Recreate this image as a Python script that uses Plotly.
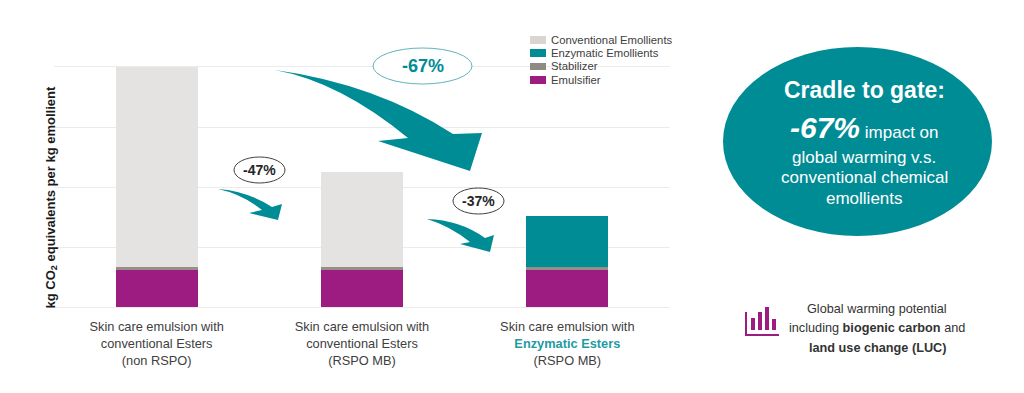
import plotly.graph_objects as go

# ---------- data ----------
categories = [
    "Skin care emulsion with<br>conventional Esters<br>(non RSPO)",
    "Skin care emulsion with<br>conventional Esters<br>(RSPO MB)",
    'Skin care emulsion with<br><span style="color:#1F9AA3"><b>Enzymatic Esters</b></span><br>(RSPO MB)',
]
emulsifier = [15.4, 15.4, 15.4]
stabilizer = [1.2, 1.2, 1.2]
enzymatic = [0, 0, 21.3]
conventional = [83.4, 39.6, 0]
series_names = ["Emulsifier", "Stabilizer", "Enzymatic Emollients", "Conventional Emollients"]
y_title = "kg CO<sub>2</sub> equivalents per kg emollient"

# ---------- style / page geometry ----------
W, H = 1024, 393
L, R, T, B = 54, 670, 67, 307
TEAL = "#008C95"
PURPLE = "#9C1C82"
GREY_L = "#E4E3E1"
GREY_S = "#968F87"
FONT = "Liberation Sans"


def px(x):
    return (x - L) / (R - L)


def py(y):
    return (B - y) / (B - T)


def path(cmds):
    out = []
    for c in cmds:
        if c[0] == "Z":
            out.append("Z")
        else:
            pts = c[1:]
            out.append(c[0] + " ".join(f"{px(pts[i]):.5f},{py(pts[i+1]):.5f}" for i in range(0, len(pts), 2)))
    return " ".join(out)


def fill_shape(cmds, color):
    return dict(type="path", xref="paper", yref="paper", path=path(cmds),
                fillcolor=color, line=dict(width=0), layer="above")


def ellipse(x0, y0, x1, y1, fill, line, lw=1):
    return dict(type="circle", xref="paper", yref="paper", x0=px(x0), x1=px(x1), y0=py(y1), y1=py(y0),
                fillcolor=fill, line=dict(color=line, width=lw), layer="above")


def rect(x0, y0, x1, y1, fill):
    return dict(type="rect", xref="paper", yref="paper", x0=px(x0), x1=px(x1), y0=py(y1), y1=py(y0),
                fillcolor=fill, line=dict(width=0), layer="above")


def text(x, y, s, size, color, anchor="center", angle=0):
    return dict(xref="paper", yref="paper", x=px(x), y=py(y), text=s, showarrow=False,
                xanchor=anchor, yanchor="middle", align="center", textangle=angle,
                borderpad=0, borderwidth=0,
                font=dict(family=FONT, size=size, color=color))


fig = go.Figure()
for name, vals, col in zip(series_names, [emulsifier, stabilizer, enzymatic, conventional],
                           [PURPLE, GREY_S, TEAL, GREY_L]):
    fig.add_bar(x=categories, y=vals, name=name, marker=dict(color=col, line=dict(width=0)), showlegend=False)

shapes = [
    # arrows
    fill_shape([("M", 275, 70), ("Q", 376, 84, 453, 134), ("L", 482, 133), ("L", 470, 171), ("L", 378, 141),
                ("L", 408, 138), ("Q", 340, 82, 275, 70), ("Z",)], TEAL),
    fill_shape([("M", 218, 189), ("Q", 247, 191, 272, 207), ("L", 282, 204), ("L", 278, 220), ("L", 249, 213),
                ("L", 262, 210), ("Q", 242, 194, 218, 189), ("Z",)], TEAL),
    fill_shape([("M", 427, 219), ("Q", 460, 220, 485, 238), ("L", 494, 235), ("L", 490, 252), ("L", 460, 244),
                ("L", 470, 242), ("Q", 450, 226, 427, 219), ("Z",)], TEAL),
    # bubbles
    ellipse(373, 48, 472, 84, "white", "#5FB5BB", 1),
    ellipse(234, 157, 285, 183, "white", "#404040", 1),
    ellipse(453, 188, 504, 214, "white", "#404040", 1),
    ellipse(723, 47, 992, 236, TEAL, TEAL, 0),
    # legend keys
    rect(530, 36, 546, 44, "#D9D6D2"),
    rect(530, 49, 546, 57, TEAL),
    rect(530, 63, 546, 70, "#8F8A82"),
    rect(530, 76, 546, 84, PURPLE),
    # icon
    rect(745, 312, 747, 336, PURPLE),
    rect(745, 334, 779, 336, PURPLE),
    rect(751, 318, 755, 330, PURPLE),
    rect(758, 312, 762, 330, PURPLE),
    rect(765, 307, 769, 330, PURPLE),
    rect(772, 319, 776, 330, PURPLE),
]

annotations = [
    text(422.5, 66, "<b>-67%</b>", 18, TEAL),
    text(259.5, 170, "<b>-47%</b>", 14, "#262626"),
    text(478.5, 201, "<b>-37%</b>", 14, "#262626"),
    text(864, 90, "<b>Cradle to gate:</b>", 23, "white"),
    text(864, 127, '<b><i><span style="font-size:30px">-67%</span></i></b> <span style="font-size:17px">impact on</span>', 17, "white"),
    text(864, 157, "global warming v.s.", 17, "white"),
    text(864, 177, "conventional chemical", 17, "white"),
    text(864, 198, "emollients", 17, "white"),
    text(877, 309, "Global warming potential", 12.7, "#333333"),
    text(877, 328, "including <b>biogenic carbon</b> and", 12.7, "#333333"),
    text(877, 348, "<b>land use change (LUC)</b>", 12.7, "#333333"),
    text(51, 197.5, f"<b>{y_title}</b>", 13, "#1A1A1A", angle=-90),
]
for yy, name in zip([39.5, 53, 66.5, 80], series_names[::-1]):
    annotations.append(text(551, yy, name, 11.3, "#404040", anchor="left"))

grid = "#EBEBEB"
fig.update_layout(
    width=W, height=H, barmode="stack", bargap=0.6,
    margin=dict(l=L, r=W - R, t=T, b=H - B, autoexpand=False),
    paper_bgcolor="white", plot_bgcolor="white",
    font=dict(family=FONT, size=12, color="#404040"),
    shapes=shapes, annotations=annotations, showlegend=False,
    xaxis=dict(showline=True, mirror=True, linecolor=grid, linewidth=1, ticks="outside", ticklen=8,
               tickcolor="rgba(0,0,0,0)",
               tickfont=dict(family=FONT, size=12.8, color="#404040")),
    yaxis=dict(range=[0, 100], dtick=25, showgrid=True, gridcolor=grid, gridwidth=1, zeroline=False,
               showticklabels=False, ticks=""),
)
fig.write_html("out.html", config=dict(displayModeBar=False), post_script="document.body.style.margin='0';")
